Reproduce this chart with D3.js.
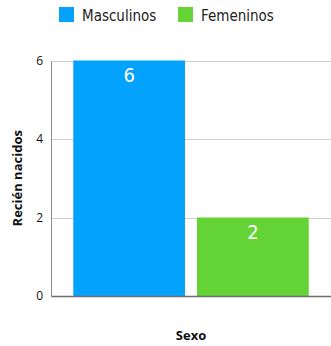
<!DOCTYPE html>
<html>
<head>
<meta charset="utf-8">
<script src="https://cdn.jsdelivr.net/npm/d3@7"></script>
<style>
  html, body { margin: 0; padding: 0; background: #fff; }
  svg { display: block; }
  text { font-family: "DejaVu Sans Condensed", "DejaVu Sans", sans-serif; }
</style>
</head>
<body>
<div id="chart"></div>
<script>
// Recién nacidos por sexo
const categories = ["Masculinos", "Femeninos"];
const values = [6, 2];
const colors = ["#03a2fd", "#63d335"];
const yTicks = [0, 2, 4, 6];
const xTitle = "Sexo";
const yTitle = "Recién nacidos";

const W = 331, H = 346;
const margin = { top: 60.5, right: 0, bottom: 50, left: 51 };

const svg = d3.select("#chart").append("svg")
  .attr("width", W).attr("height", H);

const x = d3.scaleBand()
  .domain(categories)
  .range([margin.left, W - margin.right])
  .paddingInner(0.097)
  .paddingOuter(0.18);

const y = d3.scaleLinear()
  .domain([0, 6])
  .range([H - margin.bottom, margin.top]);

// grid lines
svg.append("g")
  .selectAll("line")
  .data(yTicks.filter(d => d > 0))
  .join("line")
  .attr("x1", margin.left).attr("x2", W - margin.right)
  .attr("y1", d => Math.round(y(d)) + 0.5).attr("y2", d => Math.round(y(d)) + 0.5)
  .attr("stroke", "#cfcfcf").attr("stroke-width", 1);

// bars
svg.append("g")
  .selectAll("rect")
  .data(categories)
  .join("rect")
  .attr("x", d => x(d))
  .attr("y", (d, i) => y(values[i]))
  .attr("width", x.bandwidth())
  .attr("height", (d, i) => y(0) - y(values[i]))
  .attr("fill", (d, i) => colors[i]);

// value labels
svg.append("g")
  .selectAll("text")
  .data(categories)
  .join("text")
  .attr("x", d => x(d) + x.bandwidth() / 2)
  .attr("y", (d, i) => y(values[i]) + 21.5)
  .attr("text-anchor", "middle")
  .attr("fill", "#fff")
  .attr("font-size", 20)
  .text((d, i) => values[i]);

// y axis
const yAxis = d3.axisLeft(y).tickValues(yTicks).tickSize(0).tickPadding(8).tickFormat(d3.format("d"));
const gy = svg.append("g").attr("transform", `translate(${margin.left},0)`).call(yAxis);
gy.select(".domain").attr("stroke", "#8a8a8a");
gy.selectAll("text").attr("font-size", 12).attr("fill", "#111")
  .style("font-family", "'Open Sans', sans-serif");

// x baseline
const xAxis = d3.axisBottom(x).tickSize(0).tickFormat("");
const gx = svg.append("g").attr("transform", `translate(0,${y(0)})`).call(xAxis);
gx.select(".domain").attr("stroke", "#6e6e6e").attr("stroke-width", 1.5);

// axis titles
svg.append("text")
  .attr("x", (margin.left + W - margin.right) / 2)
  .attr("y", 340)
  .attr("text-anchor", "middle")
  .attr("font-size", 13).attr("font-weight", "bold").attr("fill", "#111")
  .style("font-family", "'Open Sans', sans-serif")
  .text(xTitle);

svg.append("text")
  .attr("transform", `translate(22,${(y(0) + y(6)) / 2}) rotate(-90)`)
  .attr("text-anchor", "middle")
  .attr("font-size", 13).attr("font-weight", "bold").attr("fill", "#111")
  .style("font-family", "'Open Sans', sans-serif")
  .text(yTitle);

// legend
const legendX = [59, 178];
const legend = svg.append("g")
  .selectAll("g")
  .data(categories)
  .join("g")
  .attr("transform", (d, i) => `translate(${legendX[i]},7)`);
legend.append("rect")
  .attr("width", 15).attr("height", 15)
  .attr("fill", (d, i) => colors[i]);
legend.append("text")
  .attr("x", 23).attr("y", 14)
  .attr("font-size", 15).attr("fill", "#222")
  .text(d => d);
</script>
</body>
</html>
